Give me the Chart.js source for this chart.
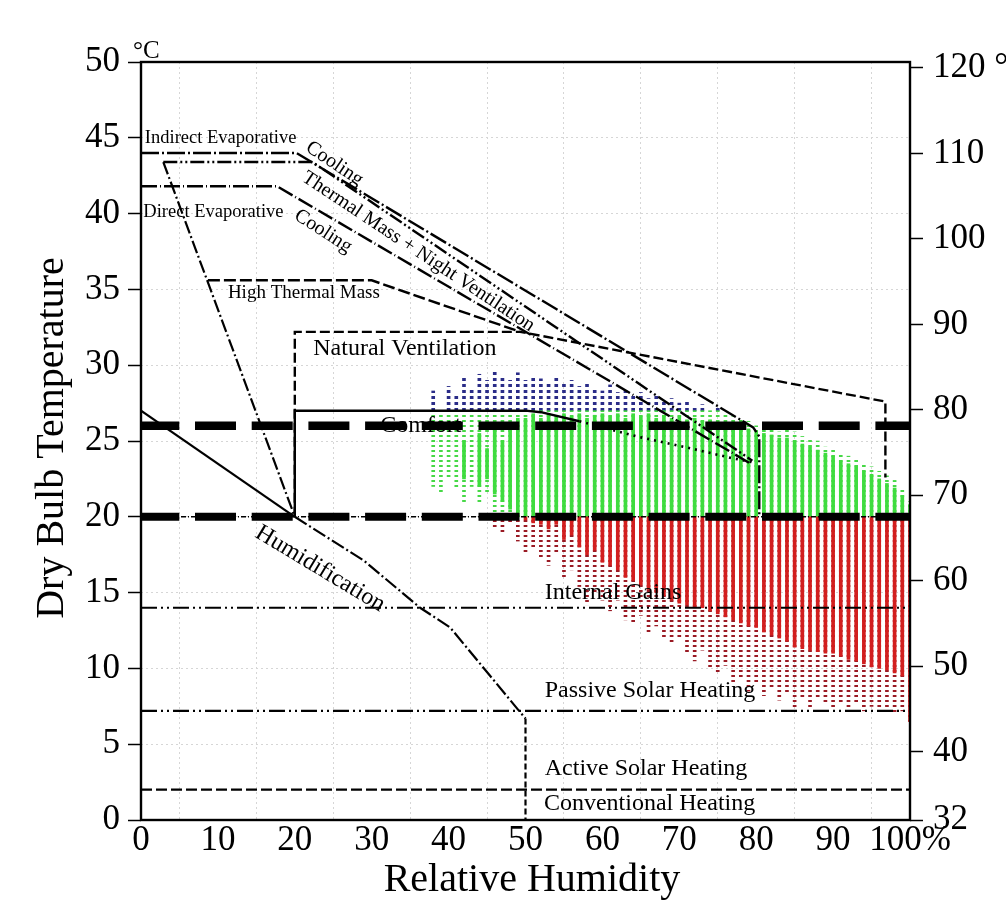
<!DOCTYPE html>
<html>
<head>
<meta charset="utf-8">
<style>
html,body{margin:0;padding:0;background:#fff;}
#wrap{width:1006px;height:904px;}
</style>
<script src="https://cdn.jsdelivr.net/npm/chart.js@4.4.1/dist/chart.umd.min.js"></script>
</head>
<body>
<div id="wrap"><canvas id="c" width="1006" height="904"></canvas></div>
<script>
// ---------------- data ----------------
// Relative humidity columns of hourly observations (%)
const rhColumns = [38,39,40,41,42,43,44,45,46,47,48,49,50,51,52,53,54,55,56,57,58,59,60,61,62,63,64,65,66,67,68,69,70,71,72,73,74,75,76,77,78,79,80,81,82,83,84,85,86,87,88,89,90,91,92,93,94,95,96,97,98,99,100];
// lowest observed dry-bulb temperature in each column (°C)
const tMin = [
  22.0,21.5,22.5,21.8,21.0,22.0,20.8,21.5,19.2,18.9,
  19.5,18.4,17.5,18.0,17.2,16.8,17.5,16.0,16.5,15.4,
  14.2,15.0,14.5,13.8,14.5,13.2,12.9,13.5,12.4,12.8,
  12.0,11.6,11.9,11.0,10.5,11.2,10.0,9.6,10.2,9.0,
  9.3,8.5,9.0,8.2,8.6,7.9,8.4,7.3,8.0,7.4,
  8.1,7.6,7.4,7.8,7.3,7.7,7.2,7.5,7.3,7.1,
  7.0,7.2,6.5
];
// bottom of the dense band of observations (°C)
const tDenseMin = [
  null,null,null,null,22.5,null,22.0,22.5,21.5,21.0,
  20.5,20.0,19.8,19.6,19.5,19.2,19.5,18.5,18.8,18.0,
  17.5,17.8,17.0,16.8,16.5,16.0,15.8,15.5,15.2,15.0,
  14.8,14.5,14.3,14.2,14.0,14.0,13.8,13.6,13.4,13.2,
  13.0,12.8,12.7,12.4,12.2,12.0,11.8,11.4,11.3,11.2,
  11.1,11.0,11.0,10.8,10.6,10.5,10.3,10.1,10.0,9.9,
  9.7,9.5,6.5
];
// top of the dense band of observations (°C)
const tDenseMax = [
  null,null,null,null,25.0,null,25.5,24.5,26.0,25.0,
  26.2,26.5,26.5,26.8,26.5,26.8,26.6,26.8,26.6,26.8,
  26.5,26.7,26.8,26.6,26.8,26.5,26.8,26.6,26.8,26.5,
  26.7,26.5,26.6,26.4,26.5,26.3,26.4,26.2,26.2,26.0,
  26.0,25.8,25.6,25.5,25.4,25.2,25.2,25.0,24.8,24.6,
  24.4,24.2,24.0,23.7,23.5,23.3,23.0,22.8,22.5,22.2,
  21.9,21.4,20.8
];
// highest observed dry-bulb temperature in each column (°C)
const tMax = [
  28.3,27.0,28.6,28.0,29.2,28.5,29.4,29.0,29.6,29.2,
  29.0,29.5,29.0,29.3,29.1,28.8,29.2,28.9,29.0,28.6,
  28.9,28.5,28.3,28.7,28.2,28.4,28.0,28.2,27.8,28.0,
  27.6,27.8,27.5,27.6,27.3,27.4,27.0,27.2,26.8,26.6,
  26.5,26.3,26.0,25.8,25.9,25.6,25.8,25.6,25.3,25.1,
  25.0,24.6,24.5,24.2,24.0,23.8,23.5,23.3,23.0,22.7,
  22.4,21.8,21.0
];
// colour band limits of the observations (°C)
const coldLimit = 20;
const hotLimit = 27;

// tick labels
const xTickValues = [0,10,20,30,40,50,60,70,80,90,100];
const cTickValues = [0,5,10,15,20,25,30,35,40,45,50];
const fTickValues = [32,40,50,60,70,80,90,100,110,120];

// strategy zone boundaries: [RH %, °C]
const indirectEvap   = [[0,44],[20.2,44],[79.6,25.9],[80.4,25.3],[80.4,20]];
const thermalNight   = [[2.9,43.4],[22.3,43.4],[79.5,23.7]];
const evapDiagonal   = [[2.9,43.4],[20,20]];
const directEvap     = [[0,41.8],[17.7,41.8],[79.3,23.5]];
const highMass       = [[8.7,35.6],[30,35.6],[49.3,32.2]];
const naturalVent    = [[20,20],[20,32.2],[49.3,32.2],[96.8,27.6],[96.8,22.6]];
const comfortSolid   = [[20,20],[20,27],[50,27],[52,26.9],[57,26.3]];
const comfortDotted  = [[57,26.3],[64.5,25.3],[71.6,24.5],[76.6,23.9],[79.5,23.6]];
const humidUpper     = [[0,27],[20,20]];
const humidification = [[20,20],[29,17.1],[36.3,14],[40.2,12.7],[49,7.3],[50,6.7]];
const humidDrop      = [[50,6.7],[50,0]];
const internalGains  = [[0,14],[100,14]];
const passiveSolar   = [[0,7.2],[100,7.2]];
const conventional   = [[0,2],[100,2]];
const comfortBandHi  = [[0,26],[100,26]];
const comfortBandLo  = [[0,20],[100,20]];

// ---------------- chart ----------------
const canvas = document.getElementById('c');
const ctx0 = canvas.getContext('2d');
const SERIF = '"Liberation Serif", "Times New Roman", serif';

function dotPattern(color, on, off) {
  const c = document.createElement('canvas');
  c.width = 4; c.height = on + off;
  const g = c.getContext('2d');
  g.fillStyle = color;
  g.fillRect(0, 0, 4, on);
  return ctx0.createPattern(c, 'repeat');
}

function segs(lo, hi, a, b) {
  const out = [];
  for (let i = 0; i < rhColumns.length; i++) {
    if (lo[i] == null || hi[i] == null) continue;
    const s = Math.max(lo[i], a), e = Math.min(hi[i], b);
    if (e > s) out.push({x: rhColumns[i], y: [s, e]});
  }
  return out;
}

function barDS(data, color, thick, order) {
  return {type: 'bar', data, backgroundColor: color, borderWidth: 0,
          barThickness: thick, grouped: false, order};
}

function lineDS(pts, dash, width, extra) {
  return Object.assign({
    type: 'line', data: pts.map(p => ({x: p[0], y: p[1]})),
    borderColor: '#000', borderWidth: width, borderDash: dash,
    pointRadius: 0, fill: false, tension: 0, order: 0, borderCapStyle: 'butt'
  }, extra || {});
}

const datasets = [
  lineDS(comfortBandHi, [41, 15.7], 8.5, {borderDashOffset: 2.7}),
  lineDS(comfortBandLo, [41, 15.7], 8, {borderDashOffset: 2.7}),
  lineDS(comfortBandLo, [5, 2, 1, 2], 1.5),
  lineDS(indirectEvap, [18, 3, 2, 3], 2.4),
  lineDS(thermalNight, [14, 3, 2, 3, 2, 3], 2.4),
  lineDS(evapDiagonal, [13, 3, 2, 3], 2.2),
  lineDS(directEvap, [16, 3, 1, 3], 2.4),
  lineDS(highMass, [12, 4], 2.4),
  lineDS(naturalVent, [10, 4], 2.4),
  lineDS(comfortSolid, [], 2.4),
  lineDS(comfortDotted, [2, 5], 2.6),
  lineDS(humidUpper, [], 2.2),
  lineDS(humidification, [14, 3, 2, 3], 2.2),
  lineDS(humidDrop, [6, 3], 2.2),
  lineDS(internalGains, [16, 4, 2, 4, 2, 4], 2.2),
  lineDS(passiveSolar, [16, 4, 2, 4, 2, 4], 2.2),
  lineDS(conventional, [11, 4], 2.2),
  // dense observation bands
  barDS(segs(tDenseMin, tDenseMax, -99, coldLimit), '#d21f1f', 3, 1),
  barDS(segs(tDenseMin, tDenseMax, coldLimit, hotLimit), '#3fdc3f', 3, 1),
  // scattered observations
  barDS(segs(tMin, tMax, -99, coldLimit), dotPattern('#9a1a24', 2, 3), 3, 2),
  barDS(segs(tMin, tMax, coldLimit, hotLimit), dotPattern('#46d846', 2, 3), 3, 2),
  barDS(segs(tMin, tMax, hotLimit, 99), dotPattern('#2a2c88', 3, 3), 3, 2)
];

const textLabels = [
  {s: 'Indirect Evaporative', rh: 0.5, t: 44.66, size: 18.5, rot: 0},
  {s: 'Cooling', rh: 21.3, t: 44.2, size: 20, rot: 34},
  {s: 'Direct Evaporative', rh: 0.3, t: 39.8, size: 18.5, rot: 0},
  {s: 'Cooling', rh: 19.8, t: 39.7, size: 20, rot: 33},
  {s: 'Thermal Mass + Night Ventilation', rh: 20.8, t: 42.2, size: 20, rot: 33.5},
  {s: 'High Thermal Mass', rh: 11.3, t: 34.4, size: 19, rot: 0},
  {s: 'Natural Ventilation', rh: 22.4, t: 30.7, size: 24, rot: 0},
  {s: 'Comfort', rh: 31.1, t: 25.6, size: 24, rot: 0},
  {s: 'Humidification', rh: 14.7, t: 18.7, size: 24, rot: 31},
  {s: 'Internal Gains', rh: 52.5, t: 14.6, size: 24, rot: 0},
  {s: 'Passive Solar Heating', rh: 52.5, t: 8.1, size: 24, rot: 0},
  {s: 'Active Solar Heating', rh: 52.5, t: 3.0, size: 24, rot: 0},
  {s: 'Conventional Heating', rh: 52.4, t: 0.65, size: 24, rot: 0}
];

const decorPlugin = {
  id: 'decor',
  afterDatasetsDraw(chart) {
    const ctx = chart.ctx, a = chart.chartArea;
    const xs = chart.scales.x, ys = chart.scales.y;
    ctx.save();
    ctx.fillStyle = '#000';
    textLabels.forEach(l => {
      ctx.save();
      ctx.translate(xs.getPixelForValue(l.rh), ys.getPixelForValue(l.t));
      ctx.rotate(l.rot * Math.PI / 180);
      ctx.font = l.size + 'px ' + SERIF;
      ctx.textBaseline = 'alphabetic';
      ctx.textAlign = 'left';
      ctx.fillText(l.s, 0, 0);
      ctx.restore();
    });
    // frame
    ctx.strokeStyle = '#000';
    ctx.lineWidth = 2.4;
    ctx.setLineDash([]);
    ctx.strokeRect(a.left, a.top, a.right - a.left, a.bottom - a.top);
    // unit and axis titles
    ctx.font = '25px ' + SERIF;
    ctx.textAlign = 'left';
    ctx.fillText('°C', 133, 58);
    ctx.font = '40px ' + SERIF;
    ctx.textAlign = 'center';
    ctx.textBaseline = 'middle';
    ctx.fillText('Relative Humidity', 532, 880);
    ctx.save();
    ctx.translate(52, 438);
    ctx.rotate(-Math.PI / 2);
    ctx.fillText('Dry Bulb Temperature', 0, 0);
    ctx.restore();
    ctx.restore();
  }
};

new Chart(canvas, {
  type: 'scatter',
  data: {datasets},
  options: {
    responsive: false,
    animation: false,
    devicePixelRatio: 1,
    layout: {padding: {top: 62, left: 0, right: 0, bottom: 0}},
    plugins: {legend: {display: false}, tooltip: {enabled: false}},
    scales: {
      x: {
        type: 'linear', position: 'bottom', min: 0, max: 100, offset: false,
        afterBuildTicks: s => { s.ticks = xTickValues.map(v => ({value: v})); },
        afterFit: s => { s.height = 84; },
        ticks: {font: {family: SERIF, size: 35}, color: '#000', padding: 0, maxRotation: 0, autoSkip: false,
                callback: v => v === 100 ? '100%' : String(v)},
        grid: {color: '#d6d6d6', lineWidth: 1, drawTicks: false},
        border: {display: false, dash: [2, 3]}
      },
      y: {
        type: 'linear', position: 'left', min: 0, max: 50,
        afterBuildTicks: s => { s.ticks = cTickValues.map(v => ({value: v})); },
        afterFit: s => { s.width = 141; },
        ticks: {font: {family: SERIF, size: 35}, color: '#000', padding: 8, autoSkip: false},
        grid: {color: '#d6d6d6', lineWidth: 1, tickColor: '#000', tickLength: 13, tickWidth: 1.5},
        border: {display: false, dash: [2, 3]}
      },
      yF: {
        type: 'linear', position: 'right', min: 32, max: 120.7,
        afterBuildTicks: s => { s.ticks = fTickValues.map(v => ({value: v})); },
        afterFit: s => { s.width = 96; },
        ticks: {font: {family: SERIF, size: 35}, color: '#000', padding: 10, autoSkip: false,
                callback: v => v === 120 ? '120 °F' : String(v)},
        grid: {drawOnChartArea: false, tickColor: '#000', tickLength: 13, tickWidth: 1.5},
        border: {display: false}
      }
    }
  },
  plugins: [decorPlugin]
});
</script>
</body>
</html>
